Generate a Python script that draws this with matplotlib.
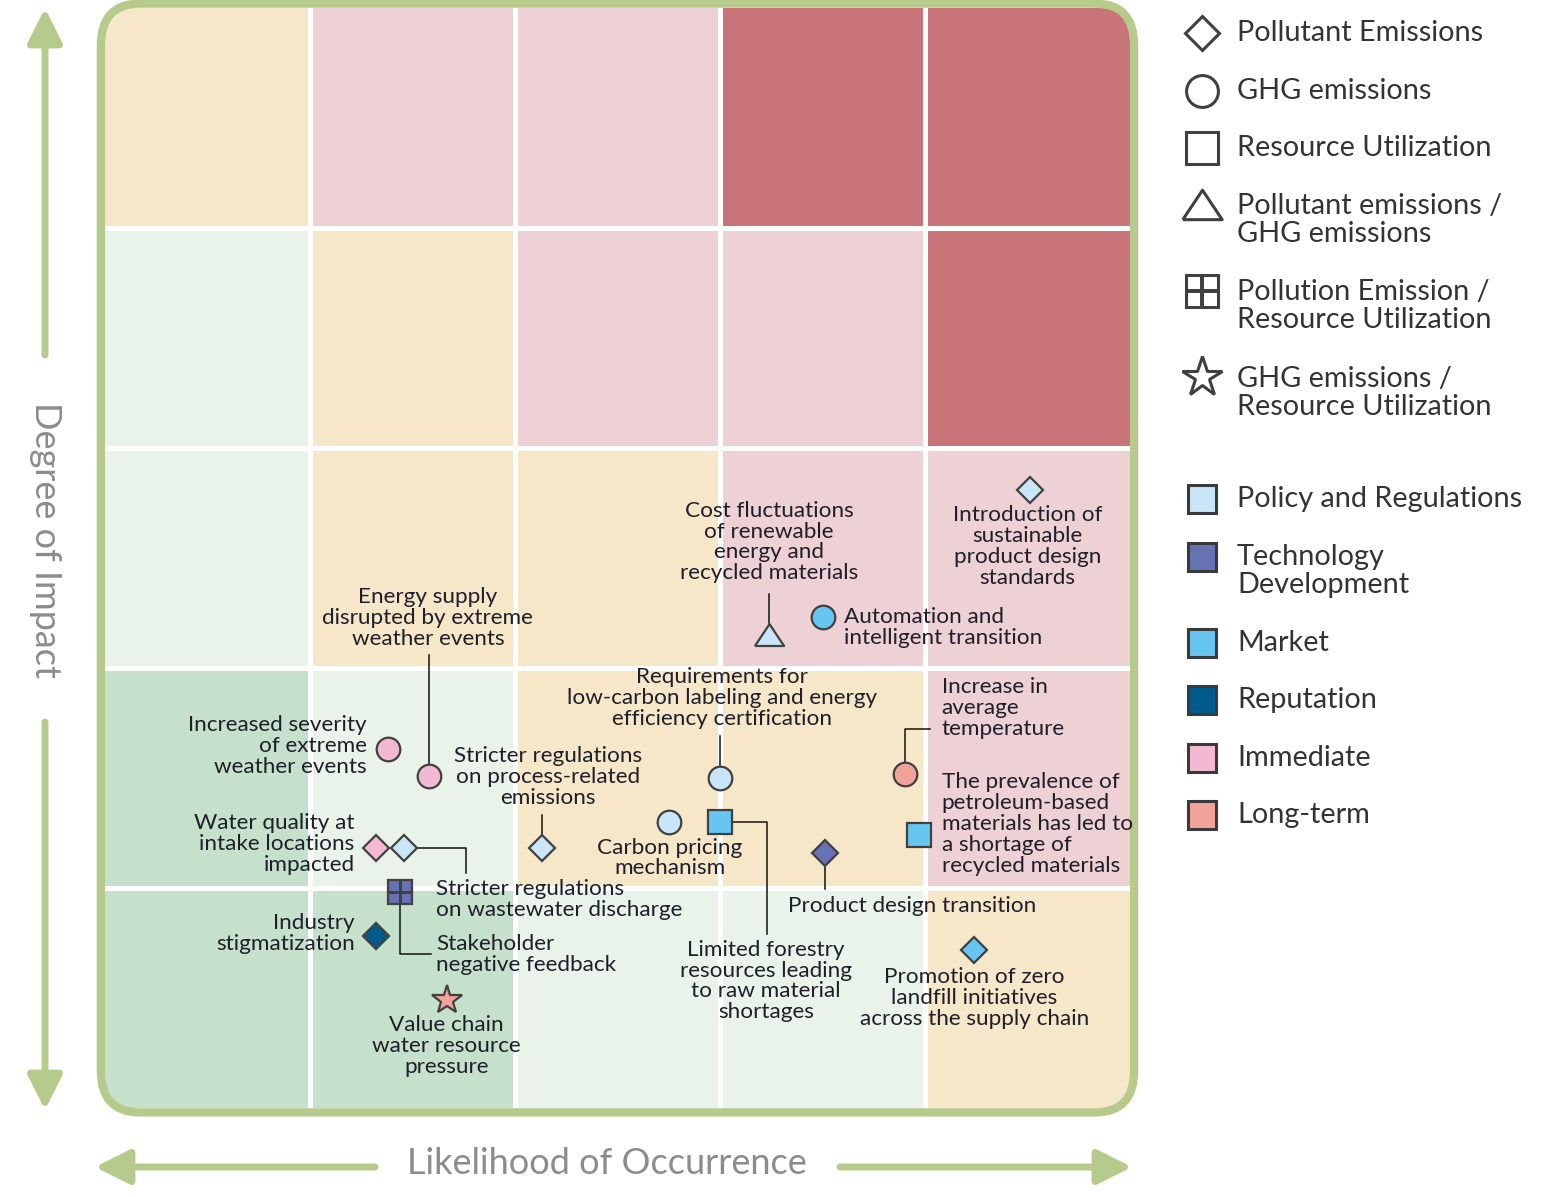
import numpy as np
import matplotlib.pyplot as plt
from matplotlib.patches import FancyBboxPatch, FancyArrowPatch, Rectangle
from matplotlib import transforms as mtransforms

plt.rcParams['font.family'] = ['Lato', 'DejaVu Sans']

# ---- data -----------------------------------------------------------------
# impact levels of the matrix cells, top row (impact 5) first, likelihood 1..5
cell_level = [
    [3, 4, 4, 5, 5],
    [2, 3, 4, 4, 5],
    [2, 3, 3, 4, 4],
    [1, 2, 3, 3, 4],
    [1, 1, 2, 2, 3],
]
level_colors = {1: '#C5E1CB', 2: '#EAF3EA', 3: '#F7E7C9', 4: '#EDD1D4', 5: '#C97479'}

risk_names = [
    'Introduction of\nsustainable\nproduct design\nstandards',
    'Cost fluctuations\nof renewable\nenergy and\nrecycled materials',
    'Automation and\nintelligent transition',
    'Energy supply\ndisrupted by extreme\nweather events',
    'Increased severity\nof extreme\nweather events',
    'Requirements for\nlow-carbon labeling and energy\nefficiency certification',
    'Stricter regulations\non process-related\nemissions',
    'Water quality at\nintake locations\nimpacted',
    'Stricter regulations\non wastewater discharge',
    'Carbon pricing\nmechanism',
    'Limited forestry\nresources leading\nto raw material\nshortages',
    'Product design transition',
    'Increase in\naverage\ntemperature',
    'The prevalence of\npetroleum-based\nmaterials has led to\na shortage of\nrecycled materials',
    'Stakeholder\nnegative feedback',
    'Industry\nstigmatization',
    'Value chain\nwater resource\npressure',
    'Promotion of zero\nlandfill initiatives\nacross the supply chain',
]
likelihood = [4.51, 3.24, 3.50, 1.58, 1.38, 3.00, 2.13, 1.32, 1.46, 2.75, 3.00, 3.51, 3.90, 3.97, 1.44, 1.32, 1.67, 4.24]
impact = [2.81, 2.15, 2.23, 1.51, 1.63, 1.50, 1.18, 1.18, 1.18, 1.30, 1.30, 1.16, 1.52, 1.24, 0.98, 0.78, 0.49, 0.72]
risk_shape = ['diamond', 'triangle', 'circle', 'circle', 'circle', 'circle', 'diamond', 'diamond', 'diamond',
              'circle', 'square', 'diamond', 'circle', 'square', 'window', 'diamond', 'star', 'diamond']
risk_type = ['Policy', 'Policy', 'Market', 'Immediate', 'Immediate', 'Policy', 'Policy', 'Immediate', 'Policy',
             'Policy', 'Market', 'Technology', 'Longterm', 'Market', 'Technology', 'Reputation', 'Longterm', 'Market']

type_colors = {'Policy': '#C8E6F8', 'Technology': '#6672B4', 'Market': '#66C6F1',
               'Reputation': '#005A8C', 'Immediate': '#F4B9D2', 'Longterm': '#F1A39B'}

shape_legend = ['Pollutant Emissions', 'GHG emissions', 'Resource Utilization',
                'Pollutant emissions /\nGHG emissions', 'Pollution Emission /\nResource Utilization',
                'GHG emissions /\nResource Utilization']
shape_legend_keys = ['diamond', 'circle', 'square', 'triangle', 'window', 'star']
type_legend = ['Policy and Regulations', 'Technology\nDevelopment', 'Market', 'Reputation', 'Immediate', 'Long-term']
type_legend_keys = ['Policy', 'Technology', 'Market', 'Reputation', 'Immediate', 'Longterm']

# ---- layout (pixel offsets of labels / leader lines, y pointing down) -------
label_dx = [-2, 0, 22, -1, -21, 2, 6, -21, 32, 1, 46, -37, 37, 23, 36, -21, -1, 0]
label_dy = [57, -93, 10, -158, -3, -80, -71, -4, 51, 36, 159, 53, -66, -11, 62, -3, 46, 48]
label_ha = ['center', 'center', 'left', 'center', 'right', 'center', 'center', 'right', 'left',
            'center', 'center', 'left', 'left', 'left', 'left', 'right', 'center', 'center']
leaders = {
    1: [(0, -41), (0, -12)],
    3: [(0, -121), (0, -12)],
    5: [(0, -42), (0, -12)],
    6: [(0, -33), (0, -12)],
    8: [(12, 0), (62, 0), (62, 25)],
    10: [(12, 0), (47, 0), (47, 112)],
    11: [(0, 12), (0, 36)],
    12: [(0, -12), (0, -45), (25, -45)],
    14: [(0, 12), (0, 62), (31, 62)],
}

EDGE = '#404040'
TXT = '#1f1f2b'
GREEN = '#B5CA8B'
tri_marker = [(-1, -0.72), (1, -0.72), (0, 0.78), (-1, -0.72)]


def draw_marker(axis, x, y, shape, fc, scale=1.0, lw=1.6):
    kw = dict(mfc=fc, mec=EDGE, mew=lw, linestyle='none', zorder=6)
    if shape == 'diamond':
        axis.plot(x, y, marker='D', ms=13 * scale, **kw)
    elif shape == 'circle':
        axis.plot(x, y, marker='o', ms=17 * scale, **kw)
    elif shape == 'square':
        axis.plot(x, y, marker='s', ms=17 * scale, **kw)
    elif shape == 'triangle':
        axis.plot(x, y, marker=tri_marker, ms=21 * scale, **kw)
    elif shape == 'star':
        axis.plot(x, y, marker='*', ms=22 * scale, **kw)
    elif shape == 'window':
        axis.plot(x, y, marker='s', ms=17 * scale, **kw)
        axis.plot(x, y, marker='+', ms=17 * scale, mec=EDGE, mew=lw * 1.3,
                  linestyle='none', zorder=7)


W, H = 1548, 1197
fig = plt.figure(figsize=(W / 100, H / 100), dpi=100)

# ---- matrix ----------------------------------------------------------------
ax = fig.add_axes([105 / W, 1 - 1108 / H, 1025 / W, 1100 / H])
ax.set_xlim(0, 5)
ax.set_ylim(0, 5)
ax.axis('off')

clip = FancyBboxPatch((0, 0), 5, 5, boxstyle='round,pad=0,rounding_size=0.15',
                      transform=ax.transData, fc='none', ec='none')
ax.add_patch(clip)
for r, row in enumerate(cell_level):
    for c, lev in enumerate(row):
        rect = Rectangle((c, 4 - r), 1, 1, fc=level_colors[lev], ec='none', zorder=1)
        ax.add_patch(rect)
        rect.set_clip_path(clip)
for k in range(1, 5):
    ax.axvline(k, color='white', lw=3.6, zorder=2)
    ax.axhline(k, color='white', lw=3.6, zorder=2)

frame = FancyBboxPatch((0, 0), 5, 5, boxstyle='round,pad=0.02,rounding_size=0.19',
                       fc='none', ec=GREEN, lw=6, zorder=5, clip_on=False)
ax.add_patch(frame)

# ---- risks -----------------------------------------------------------------
for i, name in enumerate(risk_names):
    x, y = likelihood[i], impact[i]
    draw_marker(ax, x, y, risk_shape[i], type_colors[risk_type[i]])
    ax.annotate(name, xy=(x, y), xytext=(label_dx[i], -label_dy[i]), textcoords='offset pixels',
                ha=label_ha[i], va='center', fontsize=16.2, color=TXT, linespacing=1.06,
                multialignment=label_ha[i], zorder=8)
    if i in leaders:
        trans = mtransforms.Affine2D().scale(1, -1) + mtransforms.ScaledTranslation(x, y, ax.transData)
        pts = np.array(leaders[i], dtype=float)
        ax.plot(pts[:, 0], pts[:, 1], color='#111111', lw=1.1, transform=trans, zorder=4,
                clip_on=False)

# ---- overlay: axis arrows + legend (pixel coords) ---------------------------
ov = fig.add_axes([0, 0, 1, 1])
ov.set_xlim(0, W)
ov.set_ylim(H, 0)
ov.axis('off')
ov.patch.set_alpha(0)

arrow_kw = dict(arrowstyle='-|>,head_length=1.5,head_width=0.75', color=GREEN, lw=5,
                mutation_scale=14, shrinkA=0, shrinkB=0)
for start, tip in [((45, 355), (45, 8)), ((45, 722), (45, 1110)),
                   ((375, 1167), (95, 1167)), ((840, 1167), (1132, 1167))]:
    ov.add_patch(FancyArrowPatch(start, tip, **arrow_kw))
ov.text(45, 540, 'Degree of Impact', rotation=270, ha='center', va='center',
        fontsize=26, color='#8C8C8C')
ov.text(607, 1164, 'Likelihood of Occurrence', ha='center', va='center',
        fontsize=26, color='#8C8C8C')

shape_marker_y = [33, 91, 148, 205, 291, 377]
shape_text_y = [33, 91, 148, 220, 306, 393]
for k, lab in enumerate(shape_legend):
    draw_marker(ov, 1202, shape_marker_y[k], shape_legend_keys[k], 'none', scale=1.35, lw=2.2)
    ov.text(1237, shape_text_y[k], lab, ha='left', va='center', fontsize=20.8, color='#333333',
            linespacing=1.05)

type_marker_y = [499, 557, 643, 700, 758, 815]
type_text_y = [499, 571, 643, 700, 758, 815]
for k, lab in enumerate(type_legend):
    ov.plot(1202, type_marker_y[k], marker='s', ms=20, mfc=type_colors[type_legend_keys[k]],
            mec='#3a3a3a', mew=2.2, linestyle='none')
    ov.text(1237, type_text_y[k], lab, ha='left', va='center', fontsize=20.8, color='#333333',
            linespacing=1.05)

fig.savefig('out.png', dpi=100)
